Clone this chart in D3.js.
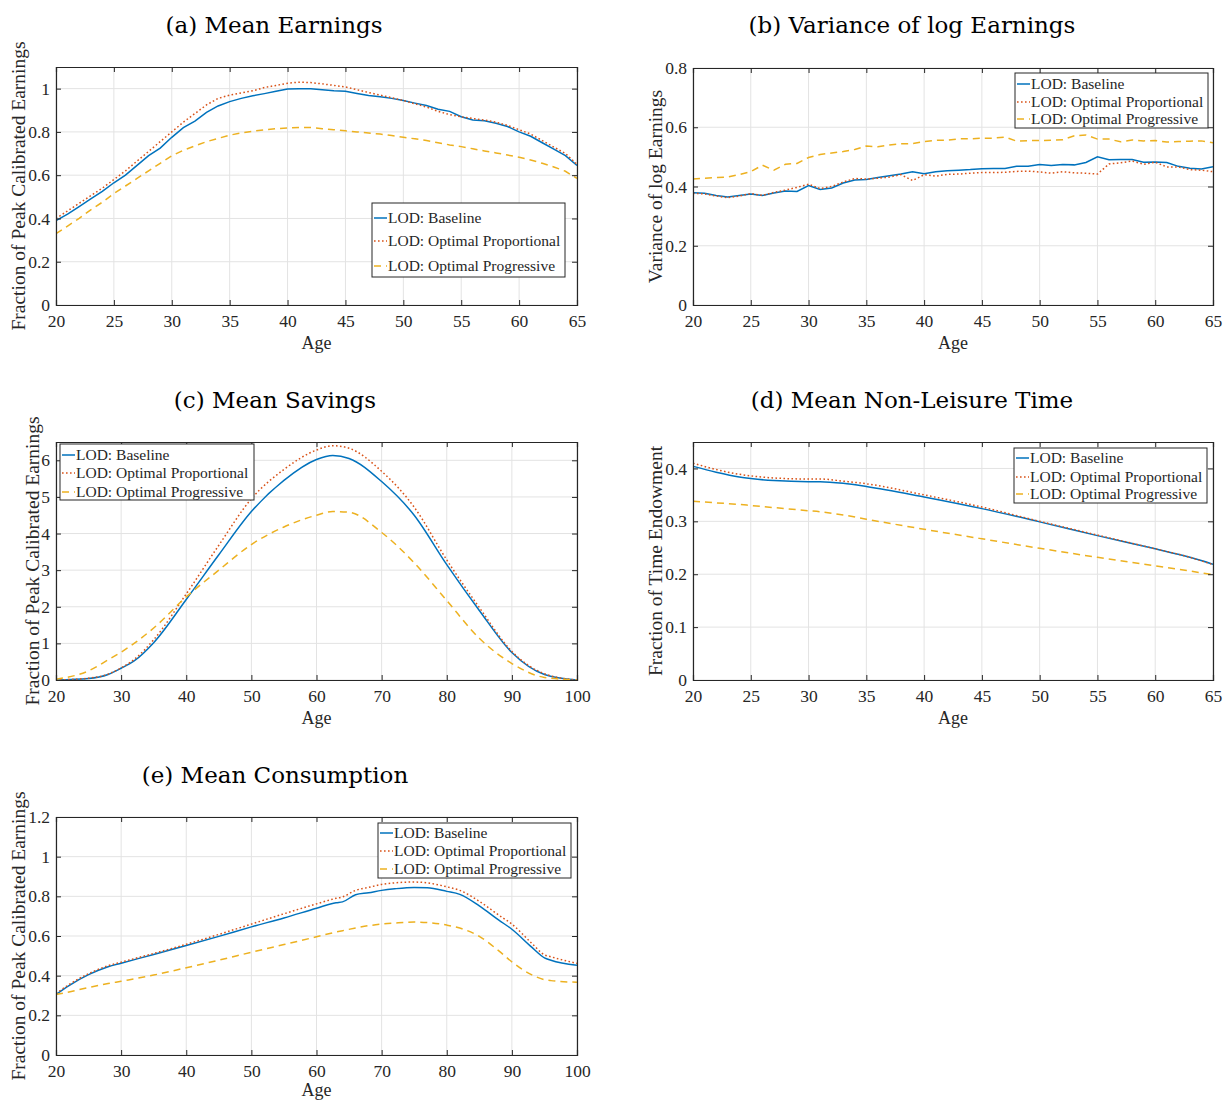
<!DOCTYPE html>
<html><head><meta charset="utf-8">
<script src="https://cdn.jsdelivr.net/npm/d3@7"></script>
<style>body{margin:0;background:#fff} svg{display:block}</style>
</head><body><svg id="chart" width="1225" height="1101"></svg>
<script>
// ---------- data ----------
const seriesNames = ["LOD: Baseline", "LOD: Optimal Proportional", "LOD: Optimal Progressive"];

const ageWork = [20,21,22,23,24,25,26,27,28,29,30,31,32,33,34,35,36,37,38,39,40,41,42,43,44,45,46,47,48,49,50,51,52,53,54,55,56,57,58,59,60,61,62,63,64,65];

const earnBase = [0.39,0.42,0.455,0.49,0.525,0.565,0.60,0.645,0.69,0.725,
  0.775,0.82,0.85,0.89,0.92,0.94,0.955,0.967,0.977,0.988,
  0.998,1.0,1.0,0.995,0.99,0.988,0.978,0.968,0.962,0.955,
  0.945,0.933,0.922,0.905,0.895,0.87,0.855,0.852,0.84,0.825,
  0.80,0.78,0.75,0.72,0.69,0.645];
const earnProp = [0.40,0.435,0.47,0.505,0.54,0.58,0.62,0.665,0.71,0.755,
  0.80,0.845,0.885,0.925,0.955,0.97,0.98,0.99,1.005,1.015,
  1.025,1.03,1.028,1.022,1.015,1.008,0.995,0.982,0.97,0.958,
  0.945,0.93,0.915,0.895,0.88,0.87,0.862,0.855,0.845,0.83,
  0.81,0.79,0.76,0.73,0.70,0.65];
const earnProg = [0.33,0.365,0.40,0.44,0.475,0.515,0.55,0.585,0.62,0.655,
  0.69,0.715,0.735,0.755,0.77,0.785,0.795,0.803,0.81,0.815,
  0.818,0.82,0.82,0.815,0.81,0.805,0.80,0.795,0.79,0.783,
  0.775,0.768,0.76,0.75,0.74,0.732,0.722,0.712,0.703,0.693,
  0.683,0.67,0.655,0.638,0.618,0.585];

const varBase = [0.379,0.377,0.37,0.365,0.37,0.375,0.37,0.378,0.385,0.383,
  0.403,0.39,0.395,0.412,0.422,0.424,0.43,0.436,0.442,0.45,
  0.443,0.45,0.453,0.455,0.457,0.46,0.461,0.461,0.468,0.468,
  0.474,0.471,0.474,0.473,0.481,0.50,0.49,0.491,0.491,0.482,
  0.483,0.481,0.468,0.462,0.459,0.467];
const varProp = [0.377,0.375,0.368,0.362,0.368,0.376,0.37,0.38,0.388,0.397,
  0.408,0.393,0.40,0.415,0.427,0.425,0.428,0.432,0.44,0.42,
  0.44,0.435,0.441,0.442,0.445,0.447,0.447,0.448,0.451,0.452,
  0.449,0.445,0.45,0.446,0.445,0.442,0.476,0.48,0.486,0.475,
  0.482,0.466,0.466,0.457,0.455,0.45];
const varProg = [0.425,0.428,0.43,0.432,0.44,0.45,0.472,0.455,0.475,0.478,
  0.498,0.508,0.513,0.518,0.525,0.537,0.534,0.54,0.544,0.545,
  0.552,0.556,0.556,0.561,0.561,0.563,0.563,0.567,0.553,0.555,
  0.555,0.556,0.558,0.571,0.574,0.56,0.56,0.551,0.557,0.554,
  0.555,0.55,0.552,0.553,0.554,0.548];

const ageSav = [20,25,28,30,32,35,40,45,50,55,60,62.5,65,70,75,80,85,90,95,100];
const savBase = [0,0.04,0.15,0.32,0.52,1.02,2.2,3.42,4.6,5.45,6.02,6.13,6.05,5.42,4.5,3.15,1.9,0.75,0.15,0];
const savProp = [0,0.05,0.16,0.33,0.56,1.1,2.35,3.68,4.95,5.75,6.28,6.4,6.33,5.7,4.72,3.28,1.98,0.78,0.17,0];
const savProg = [0.02,0.25,0.55,0.76,1.0,1.42,2.27,3.0,3.7,4.18,4.5,4.6,4.58,4.03,3.2,2.17,1.14,0.45,0.07,0];

const ageTime = [20,22,24,25,27,30,31,33,35,40,45,50,55,60,63,65];
const timeBase = [0.404,0.393,0.384,0.381,0.377,0.375,0.375,0.372,0.366,0.346,0.324,0.299,0.273,0.248,0.232,0.219];
const timeProp = [0.41,0.398,0.389,0.386,0.382,0.38,0.38,0.376,0.371,0.35,0.327,0.30,0.274,0.248,0.232,0.218];
const timeProg = [0.338,0.335,0.332,0.33,0.326,0.32,0.318,0.312,0.304,0.285,0.267,0.249,0.232,0.216,0.206,0.199];

const ageCons = [20,22,25,28,30,35,40,45,50,55,60,63,64,66,68,70,72,75,77,80,82,85,88,90,93,95,96,100];
const consBase = [0.305,0.35,0.405,0.445,0.463,0.507,0.552,0.598,0.646,0.691,0.74,0.768,0.772,0.808,0.818,0.83,0.838,0.845,0.843,0.825,0.81,0.752,0.68,0.634,0.545,0.49,0.478,0.452];
const consProp = [0.31,0.355,0.41,0.45,0.468,0.512,0.558,0.608,0.66,0.712,0.762,0.79,0.797,0.83,0.845,0.86,0.868,0.872,0.868,0.848,0.83,0.775,0.705,0.66,0.565,0.505,0.495,0.462];
const consProg = [0.305,0.318,0.34,0.36,0.372,0.403,0.44,0.478,0.518,0.557,0.596,0.62,0.627,0.64,0.652,0.66,0.665,0.67,0.668,0.655,0.64,0.598,0.525,0.47,0.405,0.38,0.375,0.367];

const ticksWorkX = [20,25,30,35,40,45,50,55,60,65];
const ticksLifeX = [20,30,40,50,60,70,80,90,100];
const ticksA = [0,0.2,0.4,0.6,0.8,1];
const ticksB = [0,0.2,0.4,0.6,0.8];
const ticksC = [0,1,2,3,4,5,6];
const ticksD = [0,0.1,0.2,0.3,0.4];
const ticksE = [0,0.2,0.4,0.6,0.8,1,1.2];

// ---------- styles ----------
const colors = ["#0072BD", "#D95319", "#EDB120"];
const dashes = [null, "1.6,2.4", "7,5"];
const serif = "'Liberation Serif','Times New Roman',serif";
const titleFont = "'DejaVu Serif',serif";
const ink = "#262626";

const svg = d3.select("#chart");

function panel(cfg) {
  const {x0, x1, y0, y1, xDom, yDom, xTicks, yTicks, title, titleX, titleY, ylabel, ylabelX, ages, series, curve, legend, ageDy} = cfg;
  const x = d3.scaleLinear().domain(xDom).range([x0, x1]);
  const y = d3.scaleLinear().domain(yDom).range([y1, y0]);
  const g = svg.append("g");

  // grid
  g.selectAll(".gx").data(xTicks).enter().append("line")
    .attr("x1", d => x(d)).attr("x2", d => x(d)).attr("y1", y0).attr("y2", y1)
    .attr("stroke", "#e3e3e3").attr("stroke-width", 1);
  g.selectAll(".gy").data(yTicks).enter().append("line")
    .attr("y1", d => y(d)).attr("y2", d => y(d)).attr("x1", x0).attr("x2", x1)
    .attr("stroke", "#e3e3e3").attr("stroke-width", 1);

  // lines
  const clipId = "clip" + title.charAt(1);
  svg.append("clipPath").attr("id", clipId).append("rect")
    .attr("x", x0).attr("y", y0 - 1).attr("width", x1 - x0).attr("height", y1 - y0 + 2);
  const lg = g.append("g").attr("clip-path", `url(#${clipId})`);
  const line = d3.line().x((d, i) => x(ages[i])).y(d => y(d)).curve(curve || d3.curveLinear);
  series.forEach((s, k) => {
    lg.append("path").attr("d", line(s)).attr("fill", "none")
      .attr("stroke", colors[k]).attr("stroke-width", 1.5)
      .attr("stroke-dasharray", dashes[k]);
  });

  // axes (ticks inside, mirrored)
  const tl = 5;
  const axB = d3.axisBottom(x).tickValues(xTicks).tickSize(-tl).tickPadding(10).tickFormat(d3.format("d"));
  const axT = d3.axisTop(x).tickValues(xTicks).tickSize(-tl).tickFormat("");
  const axL = d3.axisLeft(y).tickValues(yTicks).tickSize(-tl).tickPadding(6).tickFormat(d => String(+d.toFixed(2)));
  const axR = d3.axisRight(y).tickValues(yTicks).tickSize(-tl).tickFormat("");
  const style = a => {
    a.select(".domain").attr("stroke", ink).attr("stroke-width", 1.2);
    a.selectAll(".tick line").attr("stroke", ink).attr("stroke-width", 1);
    a.selectAll("text").attr("fill", ink).attr("font-family", serif).attr("font-size", 17.5);
  };
  g.append("g").attr("transform", `translate(0,${y1})`).call(axB).call(style);
  g.append("g").attr("transform", `translate(0,${y0})`).call(axT).call(style);
  g.append("g").attr("transform", `translate(${x0},0)`).call(axL).call(style);
  g.append("g").attr("transform", `translate(${x1},0)`).call(axR).call(style);

  // labels
  g.append("text").attr("x", (x0 + x1) / 2).attr("y", y1 + (ageDy || 44)).attr("text-anchor", "middle")
    .attr("font-family", serif).attr("font-size", 18).attr("fill", ink).text("Age");
  g.append("text").attr("transform", `translate(${ylabelX},${(y0 + y1) / 2}) rotate(-90)`)
    .attr("text-anchor", "middle").attr("dy", "0.35em")
    .attr("font-family", serif).attr("font-size", 19.5).attr("fill", ink).text(ylabel);
  g.append("text").attr("x", titleX).attr("y", titleY).attr("text-anchor", "middle")
    .attr("font-family", titleFont).attr("font-size", 23).attr("fill", "#000").text(title);

  // legend
  const L = legend;
  const lgd = g.append("g");
  lgd.append("rect").attr("x", L.x).attr("y", L.y).attr("width", L.w).attr("height", L.h)
    .attr("fill", "#fff").attr("stroke", ink).attr("stroke-width", 1);
  seriesNames.forEach((name, k) => {
    const ry = L.y + L.rows[k];
    lgd.append("line").attr("x1", L.x + 2).attr("x2", L.x + 15).attr("y1", ry).attr("y2", ry)
      .attr("stroke", colors[k]).attr("stroke-width", 1.5).attr("stroke-dasharray", dashes[k]);
    lgd.append("text").attr("x", L.x + 16).attr("y", ry).attr("dy", "0.33em")
      .attr("font-family", serif).attr("font-size", 15.5).attr("fill", ink).text(name);
  });
}

const yLabEarn = "Fraction of Peak Calibrated Earnings";

panel({x0: 56, x1: 577, y0: 67, y1: 305, xDom: [20, 65], yDom: [0, 1.1],
  xTicks: ticksWorkX, yTicks: ticksA, title: "(a) Mean Earnings", titleX: 274, titleY: 33,
  ylabel: yLabEarn, ylabelX: 18, ages: ageWork, series: [earnBase, earnProp, earnProg],
  legend: {x: 372, y: 203, w: 193, h: 74, rows: [15, 38, 63]}});

panel({x0: 693, x1: 1213, y0: 68, y1: 305, xDom: [20, 65], yDom: [0, 0.8],
  xTicks: ticksWorkX, yTicks: ticksB, title: "(b) Variance of log Earnings", titleX: 912, titleY: 33,
  ylabel: "Variance of log Earnings", ylabelX: 655, ages: ageWork, series: [varBase, varProp, varProg],
  legend: {x: 1015, y: 73, w: 193, h: 55, rows: [11, 29, 46]}});

panel({x0: 56, x1: 577, y0: 442, y1: 680, xDom: [20, 100], yDom: [0, 6.5],
  xTicks: ticksLifeX, yTicks: ticksC, title: "(c) Mean Savings", titleX: 275, titleY: 408,
  ylabel: yLabEarn, ylabelX: 32, ages: ageSav, series: [savBase, savProp, savProg], curve: d3.curveMonotoneX,
  legend: {x: 60, y: 444, w: 194, h: 56, rows: [11, 29, 48]}});

panel({x0: 693, x1: 1213, y0: 442, y1: 680, xDom: [20, 65], yDom: [0, 0.45],
  xTicks: ticksWorkX, yTicks: ticksD, title: "(d) Mean Non-Leisure Time", titleX: 912, titleY: 408,
  ylabel: "Fraction of Time Endowment", ylabelX: 655, ages: ageTime, series: [timeBase, timeProp, timeProg], curve: d3.curveMonotoneX,
  legend: {x: 1014, y: 448, w: 193, h: 55, rows: [10, 29, 46]}});

panel({x0: 56, x1: 577, y0: 817, y1: 1055, xDom: [20, 100], yDom: [0, 1.2],
  xTicks: ticksLifeX, yTicks: ticksE, title: "(e) Mean Consumption", titleX: 275, titleY: 783,
  ylabel: yLabEarn, ylabelX: 18, ages: ageCons, series: [consBase, consProp, consProg], curve: d3.curveMonotoneX,
  legend: {x: 378, y: 823, w: 193, h: 55, rows: [10, 28, 46]}, ageDy: 41});
</script></body></html>
